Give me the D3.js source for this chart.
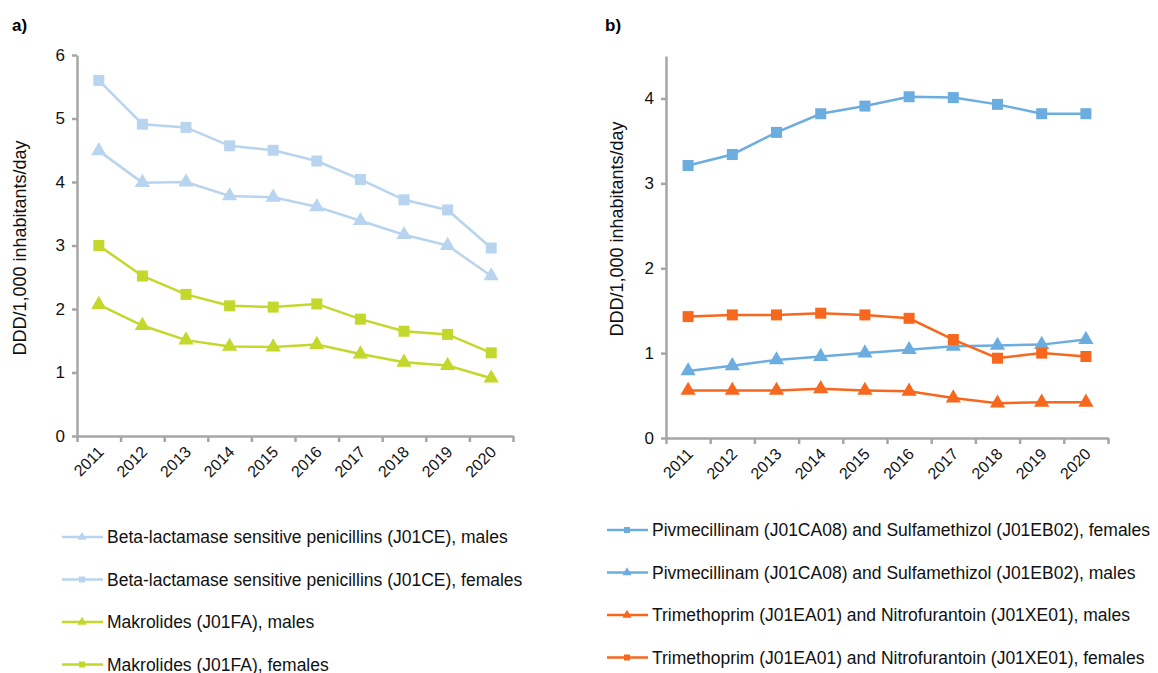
<!DOCTYPE html>
<html>
<head>
<meta charset="utf-8">
<script src="https://cdn.jsdelivr.net/npm/d3@7"></script>
<style>
  body { margin: 0; background: #fff; }
  svg { font-family: "Liberation Sans", Arial, sans-serif; }
</style>
</head>
<body>
<svg id="chart"></svg>
<script>
let years = [2011, 2012, 2013, 2014, 2015, 2016, 2017, 2018, 2019, 2020];

// panel a)
let penicillinMales   = [4.49, 3.99, 4.00, 3.78, 3.76, 3.61, 3.39, 3.17, 3.00, 2.52];
let penicillinFemales = [5.60, 4.91, 4.86, 4.57, 4.50, 4.33, 4.04, 3.72, 3.56, 2.96];
let makrolidesMales   = [2.07, 1.74, 1.51, 1.41, 1.40, 1.44, 1.29, 1.16, 1.11, 0.91];
let makrolidesFemales = [3.00, 2.52, 2.23, 2.05, 2.03, 2.08, 1.84, 1.65, 1.60, 1.31];

// panel b)
let pivFemales  = [3.21, 3.34, 3.60, 3.82, 3.91, 4.02, 4.01, 3.93, 3.82, 3.82];
let pivMales    = [0.79, 0.85, 0.92, 0.96, 1.00, 1.04, 1.08, 1.09, 1.10, 1.16];
let trimMales   = [0.56, 0.56, 0.56, 0.58, 0.56, 0.55, 0.47, 0.41, 0.42, 0.42];
let trimFemales = [1.43, 1.45, 1.45, 1.47, 1.45, 1.41, 1.16, 0.94, 1.00, 0.96];

let ticksA = [0, 1, 2, 3, 4, 5, 6];
let ticksB = [0, 1, 2, 3, 4];

let lightBlue = '#b8d4ee';
let lime = '#c4d72b';
let blue = '#6cade0';
let orange = '#f7671e';
let axisGrey = '#a6a6a6';

let width = 1158;
let height = 673;

let svg = d3.select('#chart')
    .attr('width', width)
    .attr('height', height);

let panelA = {
    label: 'a)', labelX: 12,
    x0: 77, x1: 513, y0: 436, y1: 55, yMax: 6, ticks: ticksA,
    titleX: 26, titleY: 248,
    series: [
        { name: 'Beta-lactamase sensitive penicillins (J01CE), males', values: penicillinMales, color: lightBlue, shape: 'tri' },
        { name: 'Beta-lactamase sensitive penicillins (J01CE), females', values: penicillinFemales, color: lightBlue, shape: 'sq' },
        { name: 'Makrolides (J01FA), males', values: makrolidesMales, color: lime, shape: 'tri' },
        { name: 'Makrolides (J01FA), females', values: makrolidesFemales, color: lime, shape: 'sq' }
    ],
    legendX: 62, legendY: 537
};

let panelB = {
    label: 'b)', labelX: 605,
    x0: 666, x1: 1108, y0: 438, y1: 56, yMax: 4.5, ticks: ticksB,
    titleX: 623, titleY: 229,
    series: [
        { name: 'Pivmecillinam (J01CA08) and Sulfamethizol (J01EB02), females', values: pivFemales, color: blue, shape: 'sq' },
        { name: 'Pivmecillinam (J01CA08) and Sulfamethizol (J01EB02), males', values: pivMales, color: blue, shape: 'tri' },
        { name: 'Trimethoprim (J01EA01) and Nitrofurantoin (J01XE01), males', values: trimMales, color: orange, shape: 'tri' },
        { name: 'Trimethoprim (J01EA01) and Nitrofurantoin (J01XE01), females', values: trimFemales, color: orange, shape: 'sq' }
    ],
    legendX: 607, legendY: 530
};

let drawMarker = (g, shape, color, x, y, size) => {
    let sym = shape === 'sq' ? d3.symbolSquare : d3.symbolTriangle;
    g.append('path')
        .attr('d', d3.symbol().type(sym).size(size)())
        .attr('transform', `translate(${x},${y})`)
        .attr('fill', color);
}

let drawPanel = (p) => {
    let g = svg.append('g');

    let xScale = d3.scaleBand()
        .domain(years)
        .range([p.x0, p.x1]);

    let xEdges = d3.scaleLinear()
        .domain([0, years.length])
        .range([p.x0, p.x1]);

    let yScale = d3.scaleLinear()
        .domain([0, p.yMax])
        .range([p.y0, p.y1]);

    // x axis with ticks on category boundaries
    let xAxis = d3.axisBottom(xEdges)
        .tickValues(d3.range(years.length + 1))
        .tickFormat('')
        .tickSize(6)
        .tickSizeOuter(0);

    let gx = g.append('g')
        .attr('transform', `translate(0, ${p.y0})`)
        .call(xAxis);
    gx.selectAll('path, line').attr('stroke', axisGrey).attr('stroke-width', 2.5);

    let yAxis = d3.axisLeft(yScale)
        .tickValues(p.ticks)
        .tickFormat(d3.format('d'))
        .tickSize(5)
        .tickSizeOuter(0);

    let gy = g.append('g')
        .attr('transform', `translate(${p.x0}, 0)`)
        .call(yAxis);
    gy.selectAll('path, line').attr('stroke', axisGrey).attr('stroke-width', 2.5);
    gy.selectAll('text')
        .attr('font-size', 17)
        .attr('font-family', '"Liberation Sans", Arial, sans-serif')
        .attr('fill', '#111')
        .attr('x', -12);

    // rotated year labels
    g.selectAll('.year')
        .data(years)
        .enter()
        .append('text')
        .attr('class', 'year')
        .attr('text-anchor', 'end')
        .attr('font-size', 16)
        .attr('fill', '#111')
        .attr('transform', (d) => {
            let cx = xScale(d) + xScale.bandwidth() / 2 + 6;
            return `translate(${cx}, ${p.y0 + 17}) rotate(-45)`;
        })
        .text((d) => d);

    // y title
    g.append('text')
        .attr('transform', `translate(${p.titleX}, ${p.titleY}) rotate(-90)`)
        .attr('text-anchor', 'middle')
        .attr('font-size', 18)
        .attr('fill', '#111')
        .text('DDD/1,000 inhabitants/day');

    // panel label
    svg.append('text')
        .attr('x', p.labelX)
        .attr('y', 31)
        .attr('font-size', 17)
        .attr('font-weight', 'bold')
        .text(p.label);

    let line = d3.line()
        .x((d, i) => xScale(years[i]) + xScale.bandwidth() / 2)
        .y((d) => yScale(d));

    p.series.forEach((s) => {
        g.append('path')
            .datum(s.values)
            .attr('d', line)
            .attr('fill', 'none')
            .attr('stroke', s.color)
            .attr('stroke-width', 2.5);

        s.values.forEach((v, i) => {
            drawMarker(g, s.shape, s.color,
                xScale(years[i]) + xScale.bandwidth() / 2, yScale(v),
                s.shape === 'sq' ? 121 : 100);
        });
    });

    // legend
    p.series.forEach((s, i) => {
        let ly = p.legendY + i * 42.5;
        svg.append('line')
            .attr('x1', p.legendX).attr('x2', p.legendX + 41)
            .attr('y1', ly).attr('y2', ly)
            .attr('stroke', s.color)
            .attr('stroke-width', 2.5);
        drawMarker(svg, s.shape, s.color, p.legendX + 20, ly, 36);
        svg.append('text')
            .attr('x', p.legendX + 45)
            .attr('y', ly)
            .attr('dy', '0.35em')
            .attr('font-size', 17.5)
            .attr('fill', '#111')
            .text(s.name);
    });
}

drawPanel(panelA);
drawPanel(panelB);
</script>
</body>
</html>
